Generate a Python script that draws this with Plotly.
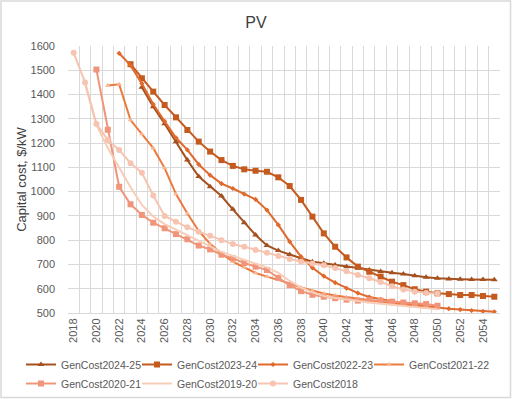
import plotly.graph_objects as go

years_2018 = list(range(2018, 2051))
years_2019 = list(range(2019, 2051))
years_2020 = list(range(2020, 2051))
years_2021 = list(range(2021, 2051))
years_2022 = list(range(2022, 2056))
years_2023 = list(range(2023, 2056))
years_2024 = list(range(2024, 2056))

gc_2024_25 = [1430, 1350, 1280, 1206, 1130, 1062, 1020, 982, 927, 872, 821, 778, 757, 741, 727, 711,
              705, 698, 691, 684, 677, 671, 666, 661, 653, 647, 643, 640, 639, 638, 638, 637]
gc_2023_24 = [1525, 1467, 1412, 1357, 1306, 1254, 1206, 1165, 1130, 1106, 1092, 1086, 1082, 1059, 1023,
              966, 897, 828, 773, 729, 691, 670, 650, 629, 615, 598, 588, 581, 578, 574, 574, 570, 567]
gc_2022_23 = [1570, 1520, 1445, 1360, 1290, 1222, 1172, 1112, 1068, 1033, 1013, 990, 968, 924, 863, 794,
              732, 686, 652, 625, 602, 582, 566, 556, 548, 541, 534, 528, 523, 518, 514, 510, 507, 505]
gc_2021_22 = [1437, 1442, 1295, 1237, 1179, 1097, 990, 910, 838, 785, 745, 712, 688, 665, 650, 637,
              622, 605, 592, 580, 572, 565, 558, 552, 546, 540, 535, 530, 525, 520]
gc_2020_21 = [1503, 1255, 1020, 948, 904, 872, 849, 825, 804, 778, 762, 740, 725, 706, 691, 677, 645,
              615, 590, 575, 567, 561, 555, 551, 553, 551, 547, 543, 540, 537, 530]
gc_2019_20 = [1445, 1275, 1180, 1096, 1018, 945, 898, 866, 843, 821, 797, 772, 752, 735, 718, 703, 688,
              665, 632, 605, 585, 570, 562, 555, 548, 543, 538, 533, 528, 524, 520, 515]
gc_2018 = [1572, 1450, 1279, 1213, 1172, 1117, 1078, 984, 900, 876, 853, 835, 818, 800, 784, 773, 760,
           748, 735, 722, 711, 704, 697, 685, 672, 657, 643, 628, 610, 597, 588, 582, 580]

tick_years = list(range(2018, 2055, 2))
y_ticks = list(range(500, 1601, 100))

# name, x, y, line colour, marker colour, symbol, marker size, legend column
series = [
    ("GenCost2024-25", years_2024, gc_2024_25, "#A5501F", "#A5501F", "triangle-up", 6, "legend"),
    ("GenCost2023-24", years_2023, gc_2023_24, "#C55A1E", "#C55A1E", "square", 6, "legend2"),
    ("GenCost2022-23", years_2022, gc_2022_23, "#E0692C", "#E0692C", "diamond", 4, "legend3"),
    ("GenCost2021-22", years_2021, gc_2021_22, "#EC7A3C", "#F6B895", "triangle-up", 5, "legend4"),
    ("GenCost2020-21", years_2020, gc_2020_21, "#F0957A", "#F0957A", "square", 6, "legend"),
    ("GenCost2019-20", years_2019, gc_2019_20, "#F8CDB8", "#F8CDB8", None, 0, "legend2"),
    ("GenCost2018", years_2018, gc_2018, "#F6C4B0", "#F6C4B0", "circle", 6, "legend3"),
]

fig = go.Figure()
for name, xs, ys, lc, mc, sym, ms, lg in series:
    if sym is None:
        fig.add_trace(go.Scatter(x=xs, y=ys, name=name, mode="lines", legend=lg,
                                 line=dict(color=lc, width=2)))
    else:
        fig.add_trace(go.Scatter(x=xs, y=ys, name=name, mode="lines+markers", legend=lg,
                                 line=dict(color=lc, width=2),
                                 marker=dict(symbol=sym, size=ms, color=mc)))

L, R, T, B = 68, 12, 46, 86
W, H = 512, 399
pw, ph = W - L - R, H - T - B


def px_x(px):
    return (px - L) / pw


def px_y(py):
    return (H - B - py) / ph


leg_common = dict(orientation="v", xanchor="left", yanchor="top",
                  font=dict(size=10.5, color="#595959"), itemwidth=30,
                  traceorder="normal", bgcolor="rgba(0,0,0,0)", tracegroupgap=0)
legend_x = [21, 137, 253, 369]
legend_top = 350

fig.update_layout(
    width=W, height=H,
    margin=dict(l=L, r=R, t=T, b=B, autoexpand=False),
    paper_bgcolor="white", plot_bgcolor="white",
    font=dict(family="Liberation Sans, Arial, sans-serif", color="#595959", size=11),
    title=dict(text="PV", x=0.5, xanchor="center", y=1 - 22 / H, yanchor="middle",
               font=dict(size=16, color="#404040")),
    showlegend=True,
    legend=dict(x=px_x(legend_x[0]), y=px_y(legend_top), **leg_common),
    legend2=dict(x=px_x(legend_x[1]), y=px_y(legend_top), **leg_common),
    legend3=dict(x=px_x(legend_x[2]), y=px_y(legend_top), **leg_common),
    legend4=dict(x=px_x(legend_x[3]), y=px_y(legend_top), **leg_common),
    xaxis=dict(range=[2017.5, 2055.5], tickmode="array", tickvals=tick_years,
               ticktext=[str(t) for t in tick_years], tickangle=-90, automargin=False,
               showgrid=False, zeroline=False, showline=True, linecolor="#D9D9D9",
               ticks="", tickfont=dict(size=11, color="#595959"),
               minor=dict(tickvals=[2017.5 + i for i in range(39)], showgrid=True,
                          gridcolor="#D9D9D9", gridwidth=1, ticks="")),
    yaxis=dict(range=[500, 1600], tickmode="array", tickvals=y_ticks, automargin=False,
               showgrid=True, gridcolor="#D9D9D9", gridwidth=1, zeroline=False,
               showline=False, ticks="", ticklabelstandoff=12,
               tickfont=dict(size=11, color="#595959"),
               title=dict(text="Capital cost, $/kW", font=dict(size=13, color="#404040"),
                          standoff=0)),
)

fig.add_shape(type="rect", xref="paper", yref="paper",
              x0=px_x(1), x1=px_x(510.5),
              y0=px_y(397.5), y1=px_y(1),
              line=dict(color="#D9D9D9", width=1.5), fillcolor="rgba(0,0,0,0)", layer="below")

fig.write_html("out.html", config={"displayModeBar": False},
               post_script="document.body.style.margin='0px';document.body.style.overflow='hidden';")
